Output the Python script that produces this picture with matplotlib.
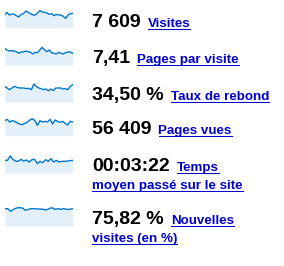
import matplotlib
matplotlib.use("Agg")
import matplotlib.pyplot as plt
from matplotlib.lines import Line2D

# ---- data ----
metric_values = ['7 609', '7,41', '34,50 %', '56 409', '00:03:22', '75,82 %']
metric_labels = ['Visites', 'Pages par visite', 'Taux de rebond', 'Pages vues',
                 'Temps\nmoyen passé sur le site', 'Nouvelles\nvisites (en %)']
spark_visites = [38, 46, 38, 41, 40, 36, 32, 40, 42, 50, 46, 42, 38, 38, 44, 51, 47, 46, 44, 40,
                 42, 36, 40, 38, 38, 34, 28, 38, 42, 43]
spark_pages_par_visite = [50, 45, 42, 43, 42, 40, 35, 39, 39, 42, 40, 38, 33, 38, 37, 45, 53, 45, 40,
                          45, 37, 35, 33, 38, 35, 33, 37, 39, 39, 35]
spark_rebond = [47, 42, 37, 42, 47, 44, 42, 42, 42, 40, 41, 37, 54, 47, 42, 40, 37, 39, 34, 39, 34,
                42, 42, 42, 39, 40, 37, 47, 52]
spark_pages_vues = [45, 49, 41, 45, 43, 38, 35, 33, 37, 41, 47, 51, 45, 31, 45, 41, 43, 41, 49, 35,
                    47, 43, 40, 43, 37, 32, 43, 41]
spark_temps = [37, 37, 50, 40, 35, 34, 40, 35, 38, 32, 39, 40, 27, 34, 30, 39, 34, 42, 32, 37, 32,
               34, 34, 35, 36, 37]
spark_nouvelles = [52, 52, 44, 50, 54, 55, 54, 47, 50, 52, 52, 51, 51, 50, 48, 52, 55, 50, 52, 50,
                   52, 50, 50, 52]
sparks = [spark_visites, spark_pages_par_visite, spark_rebond, spark_pages_vues, spark_temps,
          spark_nouvelles]

# ---- layout ----
W, H = 284, 266
fig = plt.figure(figsize=(W / 100, H / 100), dpi=100)
fig.patch.set_facecolor('white')

spark_boxes = [(5, 27.7, 68), (40, 65, 75), (78, 102, 72), (114, 135.7, 65), (152, 172.7, 62),
               (202, 226, 72)]
baselines = [27, 63, 100, 134, 171, 224]
x_left, x_width = 4.7, 68
line_col = '#0077cc'
fill_col = '#e3f0fa'
link_col = '#0000cc'

for vals, (top, bot, ymax) in zip(sparks, spark_boxes):
    ax = fig.add_axes([x_left / W, 1 - bot / H, x_width / W, (bot - top) / H])
    xs = range(len(vals))
    ax.fill_between(xs, 0, vals, color=fill_col, lw=0)
    ax.plot(xs, vals, color=line_col, lw=1.0, solid_joinstyle='round')
    ax.set_xlim(0, len(vals) - 1)
    ax.set_ylim(0, ymax)
    ax.axis('off')

font = 'Liberation Sans'
num_x = 92
gap = 7
fig.canvas.draw()
renderer = fig.canvas.get_renderer()


def underline(t, base):
    bb = t.get_window_extent(renderer)
    y = 1 - (base + 2) / H
    fig.add_artist(Line2D([bb.x0 / W, bb.x1 / W], [y, y], color=link_col, lw=0.75))


for val, lab, base in zip(metric_values, metric_labels, baselines):
    tn = fig.text(num_x / W, 1 - base / H, val, fontsize=14, fontweight='bold', family=font,
                  color='black', va='baseline', ha='left')
    bb = tn.get_window_extent(renderer)
    parts = lab.split('\n')
    t1 = fig.text((bb.x1 + gap) / W, 1 - base / H, parts[0], fontsize=9.6, fontweight='bold',
                  family=font, color=link_col, va='baseline', ha='left')
    underline(t1, base)
    if len(parts) > 1:
        t2 = fig.text(num_x / W, 1 - (base + 18) / H, parts[1], fontsize=9.6, fontweight='bold',
                      family=font, color=link_col, va='baseline', ha='left')
        underline(t2, base + 18)

fig.savefig('out.png', dpi=100, facecolor='white')
